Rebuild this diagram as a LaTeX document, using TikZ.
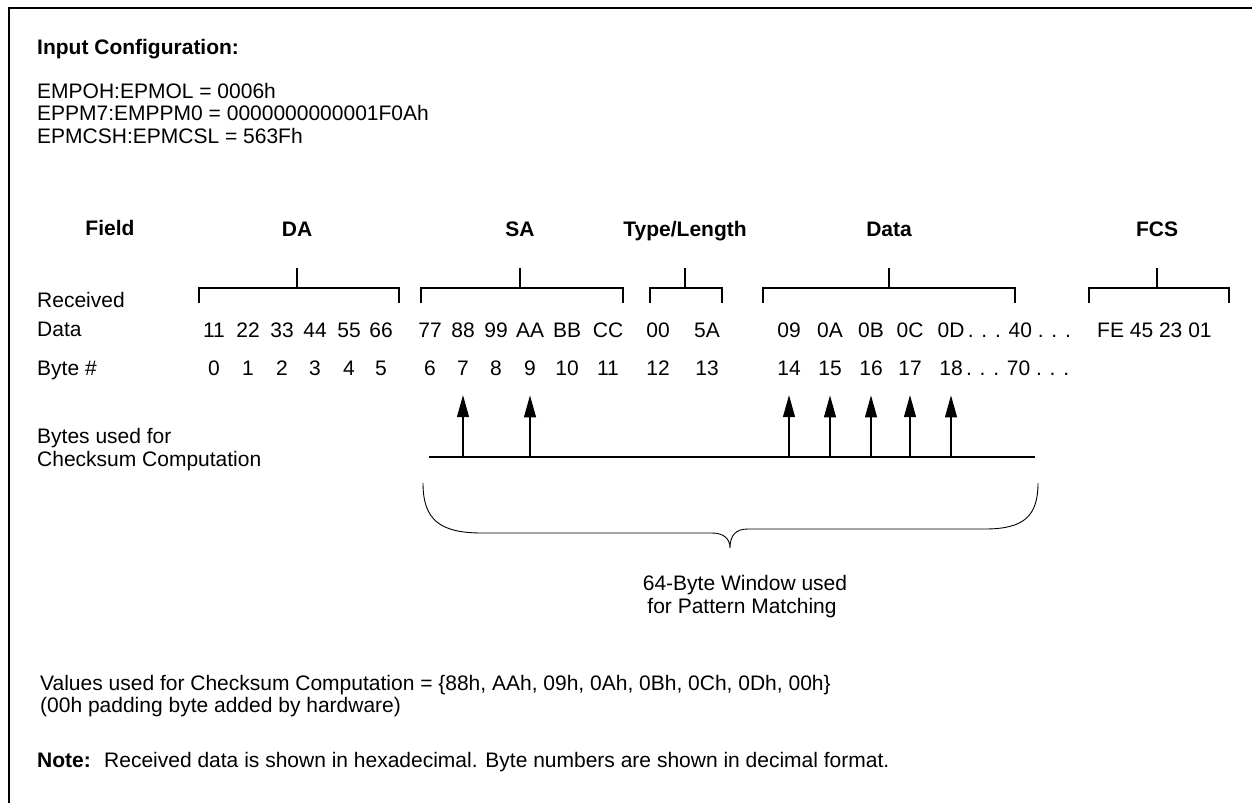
\documentclass[tikz,border=0pt]{standalone}
\usepackage{fontspec}
\setmainfont{Liberation Sans}
\usetikzlibrary{arrows.meta}
\newcommand{\fs}{\fontsize{21}{23}\selectfont}

\begin{document}
\begin{tikzpicture}[x=1pt,y=-1pt,font=\fs,
  lbl/.style={anchor=base west,inner sep=0},
  hdr/.style={anchor=base,inner sep=0,font=\fs\bfseries},
  cell/.style={anchor=base,inner sep=0},
  brk/.style={line width=1.7pt},
  up/.style={line width=1.3pt,-{Triangle[length=22pt,width=12pt]}}]
\useasboundingbox (0,0) rectangle (1252,803);
\draw[line width=2.6pt] (9,803) -- (9,8) -- (1252,8);
% input configuration
\node[lbl,font=\fs\bfseries] (incfg) at (37,54) {Input Configuration:};
\node[lbl] (cfga) at (37,98) {EMPOH:EPMOL = 0006h};
\node[lbl] (cfgb) at (37,120) {EPPM7:EMPPM0 = 0000000000001F0Ah};
\node[lbl] (cfgc) at (37,143) {EPMCSH:EPMCSL = 563Fh};
% field headers and brackets
\node[hdr] (hfld) at (110,235) {Field};
\node[hdr] (hda) at (297,236) {DA};
\node[hdr] (hsa) at (520,236) {SA};
\node[hdr] (htl) at (685,236) {Type/Length};
\node[hdr] (hdt) at (889,236) {Data};
\node[hdr] (hfcs) at (1157,236) {FCS};
\foreach \l/\r/\h in {199/399/da,421/623/sa,650/722/tl,763/1015/dt,1089/1229/fcs}
  \draw[brk] (\l,303) |- (\r,288) -- (\r,303) (h\h |- 0,288) -- (h\h |- 0,268);
% rows
\node[lbl] (lrcv) at (37,307) {Received};
\node[lbl] (ldat) at (37,336) {Data};
\node[lbl] (lbyt) at (37,375) {Byte \#};
\foreach \x/\hx/\bn in {214/11/0,248/22/1,282/33/2,315/44/3,349/55/4,381/66/5,
  430/77/6,463/88/7,496/99/8,530/AA/9,567/BB/10,608/CC/11,658/00/12,707/5A/13,
  789/09/14,830/0A/15,871/0B/16,910/0C/17,951/0D/18}{
  \node[cell] (hx\bn) at (\x,337) {\hx};
  \node[cell] (by\bn) at (\x,375) {\bn};
}
\node[lbl,xshift=3pt] (hxtail) at (hx18.base east) {. . . 40 . . .};
\node[lbl,xshift=3pt] (bytail) at (by18.base east) {. . . 70 . . .};
\node[lbl] (fcsv) at (1097,337) {FE 45 23 01};
% checksum bytes
\node[lbl] (lcka) at (37,443) {Bytes used for};
\node[lbl] (lckb) at (37,466) {Checksum Computation};
\draw[line width=1.3pt] (429,457) coordinate (wl) -- (1035,457) coordinate (wr);
\foreach \n in {7,9,14,15,16,17,18}
  \draw[up] (by\n |- wl) -- ([yshift=-20pt]by\n.south);
% window brace
\coordinate (bl) at (423,483);
\coordinate (br) at (1038,483);
\coordinate (btip) at (730,548);
\draw[line width=0.9pt] (bl) .. controls (423,520) and (440,533) .. (482,533) -- (712,533)
  .. controls (724,533) and (730,539) .. (btip)
  .. controls (730,535) and (736,529) .. (748,529) -- (985,529)
  .. controls (1024,529) and (1038,516) .. (br);
\node[cell] (wina) at (745,590) {64-Byte Window used};
\node[cell] (winb) at (742,613) {for Pattern Matching};
% values and note
\node[lbl] (vala) at (40,690) {Values used for Checksum Computation = \{88h, AAh, 09h, 0Ah, 0Bh, 0Ch, 0Dh, 00h\}};
\node[lbl] (valb) at (40,712) {(00h padding byte added by hardware)};
\node[lbl,font=\fs\bfseries] (note) at (37,767) {Note:};
\node[lbl] (notet) at (104,767) {Received data is shown in hexadecimal. Byte numbers are shown in decimal format.};
\end{tikzpicture}
\end{document}
